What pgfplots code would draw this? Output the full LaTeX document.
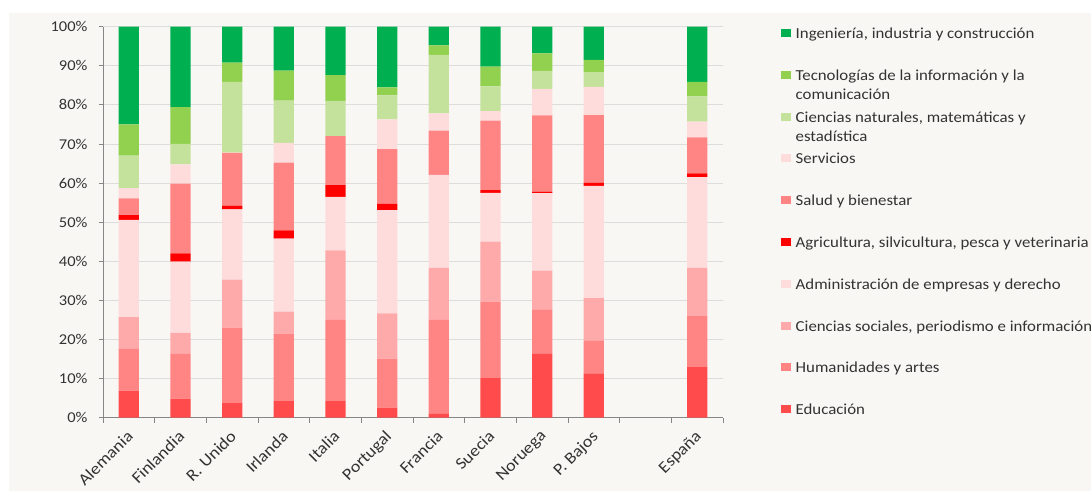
\documentclass[border=0pt]{standalone}
\usepackage{fontspec}
\setmainfont{Carlito}[FakeStretch=1.1]
\usepackage{pgfplots}
\usepackage{pgfplotstable}
\pgfplotsset{compat=1.18}
\definecolor{cIng}{HTML}{00B050}
\definecolor{cTic}{HTML}{92D050}
\definecolor{cCn}{HTML}{C4E29C}
\definecolor{cServ}{HTML}{FFDCDC}
\definecolor{cSal}{HTML}{FF8585}
\definecolor{cAgr}{HTML}{FF0000}
\definecolor{cAdm}{HTML}{FFDCDC}
\definecolor{cCsoc}{HTML}{FFAAAA}
\definecolor{cHum}{HTML}{FF8585}
\definecolor{cEdu}{HTML}{FF4B4B}
\definecolor{panel}{HTML}{F8F7F4}
\definecolor{axgray}{HTML}{868686}
\definecolor{gridgray}{HTML}{DDDDDD}
\definecolor{txt}{HTML}{333333}

\pgfplotstableread{
x edu hum csoc adm agr sal serv cn tic ing
0 6.9 10.7 8.1 24.9 1.2 4.3 2.6 8.3 8.0 25.0
1 4.9 11.4 5.4 18.2 2.1 17.85 4.95 5.2 9.4 20.6
2 3.75 19.25 12.3 18.0 0.9 13.5 0.1 18.1 4.9 9.2
3 4.2 17.3 5.6 18.7 2.1 17.3 5.1 10.8 7.65 11.25
4 4.2 20.8 17.8 13.7 3.0 12.5 0 9.0 6.6 12.4
5 2.55 12.55 11.6 26.4 1.55 14.05 7.6 6.1 2.1 15.5
6 1.0 24.0 13.3 23.8 0 11.3 4.4 15.0 2.4 4.8
7 10.1 19.6 15.3 12.5 0.7 17.8 2.4 6.3 5.1 10.2
8 16.3 11.4 9.9 19.8 0.4 19.5 6.8 4.6 4.5 6.8
9 11.3 8.5 10.8 28.7 0.8 17.3 7.2 3.8 3.1 8.5
11 12.9 13.1 12.3 23.2 1.0 9.2 4.0 6.5 3.65 14.15
}\datatable

\newcommand{\lfont}{\fontsize{15.3bp}{19bp}\selectfont}
\newcommand{\yfont}{\fontsize{15bp}{17bp}\selectfont}
\newcommand{\xfont}{\fontsize{16.5bp}{19bp}\selectfont}

\begin{document}
\begin{tikzpicture}
\path[fill=white,use as bounding box] (-103bp,-73.33bp) rectangle (988bp,417.67bp);
\fill[panel] (-94bp,-73.33bp) rectangle (988bp,404.67bp);
\begin{axis}[
  at={(0,0)}, anchor=south west,
  scale only axis, width=620bp, height=391bp,
  ybar stacked, bar width=20.3bp,
  xmin=-0.5, xmax=11.5, ymin=0, ymax=100,
  axis x line*=bottom, axis y line*=left,
  axis line style={axgray, line width=0.8bp, -},
  xtick={0,1,2,3,4,5,6,7,8,9,11},
  xticklabels={Alemania,Finlandia,R. Unido,Irlanda,Italia,Portugal,Francia,Suecia,Noruega,P. Bajos,España},
  minor xtick={-0.5,0.5,1.5,2.5,3.5,4.5,5.5,6.5,7.5,8.5,9.5,10.5,11.5},
  major x tick style={draw=none},
  minor x tick style={axgray, line width=0.8bp},
  major y tick style={axgray, line width=0.8bp},
  minor tick length=5bp, major tick length=4bp, tick align=outside,
  ytick={0,10,20,30,40,50,60,70,80,90,100},
  yticklabels={0\%,10\%,20\%,30\%,40\%,50\%,60\%,70\%,80\%,90\%,100\%},
  ymajorgrids, major grid style={gridgray, line width=0.8bp},
  tick label style={text=txt},
  yticklabel style={font=\yfont, xshift=-8bp},
  xticklabel style={font=\xfont, xshift=-3bp, yshift=-6bp, rotate=45, anchor=north east, inner sep=1bp},
  every axis plot/.append style={draw=none},
  legend image code/.code={\fill[#1] (0bp,1.5bp) rectangle (9.5bp,9.5bp);},
  reverse legend,
  legend style={draw=none, fill=none, at={(1.0935,1.001)}, anchor=north west,
    font=\lfont, text=txt, inner sep=0pt, row sep=4.8bp, column sep=5bp,
    cells={anchor=base west},
    nodes={inner sep=0pt, text height=12bp, text depth=25bp}},
]
\addplot[fill=cEdu] table[x=x,y=edu] {\datatable};
\addlegendentry{Educación}
\addplot[fill=cHum] table[x=x,y=hum] {\datatable};
\addlegendentry{Humanidades y artes}
\addplot[fill=cCsoc] table[x=x,y=csoc] {\datatable};
\addlegendentry{Ciencias sociales, periodismo e información}
\addplot[fill=cAdm] table[x=x,y=adm] {\datatable};
\addlegendentry{Administración de empresas y derecho}
\addplot[fill=cAgr] table[x=x,y=agr] {\datatable};
\addlegendentry{Agricultura, silvicultura, pesca y veterinaria}
\addplot[fill=cSal] table[x=x,y=sal] {\datatable};
\addlegendentry{Salud y bienestar}
\addplot[fill=cServ] table[x=x,y=serv] {\datatable};
\addlegendentry{Servicios}
\addplot[fill=cCn] table[x=x,y=cn] {\datatable};
\addlegendentry{\parbox[t]{300bp}{Ciencias naturales, matemáticas y\\estadística}}
\addplot[fill=cTic] table[x=x,y=tic] {\datatable};
\addlegendentry{\parbox[t]{300bp}{Tecnologías de la información y la\\comunicación}}
\addplot[fill=cIng] table[x=x,y=ing] {\datatable};
\addlegendentry{Ingeniería, industria y construcción}
\end{axis}
\end{tikzpicture}
\end{document}
